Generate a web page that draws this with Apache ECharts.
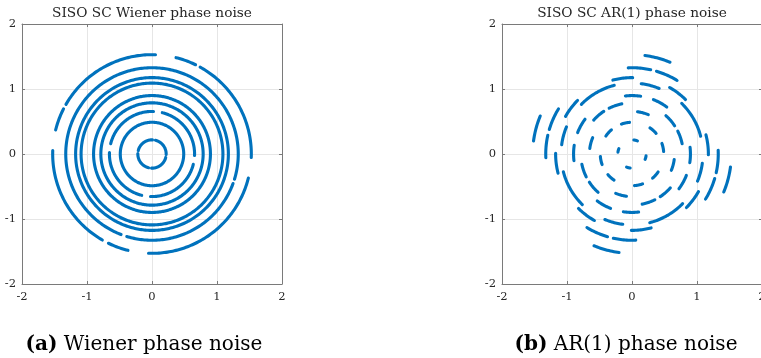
<!DOCTYPE html>
<html>
<head>
<meta charset="utf-8">
<script src="https://cdn.jsdelivr.net/npm/echarts@6/dist/echarts.min.js"></script>
<style>
  html, body { margin: 0; padding: 0; background: #fff; }
  #chart { width: 761px; height: 358px; }
</style>
</head>
<body>
<div id="chart"></div>
<script>
// ring radii of the 64-QAM constellation
const ringRadius = [0.218, 0.488, 0.655, 0.787, 0.899, 1.091, 1.175, 1.327, 1.528]

// Wiener plot: visible arcs on each ring, [start, end] in degrees
const wienerArcs = [
  [[-2, 76], [88, 166], [178, 256], [268, 346]],
  [[0, 360]],
  [[-2, 76], [88, 166], [178, 256], [268, 346]],
  [[0, 360]],
  [[0, 360]],
  [[0, 360]],
  [[0, 360]],
  [[-17, 249], [253, 340]],
  [[-2, 61], [64, 76], [88, 150], [153, 166], [178, 240], [244, 256], [268, 346]]
]

// AR(1) plot: centre angle of every dash on each ring (degrees)
const arCenters = [
  [75, 165, 255, 345],
  [48, 102, 138, 192, 228, 282, 318, 12],
  [75, 165, 255, 345],
  [41, 109, 131, 199, 221, 289, 311, 19],
  [61, 89, 151, 179, 241, 269, 331, 359],
  [75, 165, 255, 345, 38, 112, 128, 202, 218, 292, 308, 22],
  [53, 97, 143, 187, 233, 277, 323, 7],
  [66, 85, 156, 175, 246, 265, 336, 355],
  [75, 165, 255, 345]
]
const arHalfWidth = 7.5

const axisMin = -2
const axisMax = 2
const axisStep = 1

const titles = ['SISO SC Wiener phase noise', 'SISO SC AR(1) phase noise']
const captions = [['(a)', 'Wiener phase noise'], ['(b)', 'AR(1) phase noise']]

const blue = '#0072BD'
const boxColor = '#7a7a7a'
const font = 'DejaVu Serif'

// build [r, a0, a1] items
let wienerData = []
wienerArcs.forEach((arcs, i) => {
  arcs.forEach(a => wienerData.push([ringRadius[i], a[0], a[1]]))
})
let arData = []
arCenters.forEach((cs, i) => {
  cs.forEach(c => arData.push([ringRadius[i], c - arHalfWidth, c + arHalfWidth]))
})

// draw an arc through the axis scales
function renderArc (params, api) {
  let r = api.value(0)
  let a0 = api.value(1)
  let a1 = api.value(2)
  let n = Math.max(2, Math.ceil(Math.abs(a1 - a0)))
  let pts = []
  for (let k = 0; k <= n; k++) {
    let a = (a0 + (a1 - a0) * k / n) * Math.PI / 180
    pts.push(api.coord([r * Math.cos(a), r * Math.sin(a)]))
  }
  return {
    type: 'polyline',
    shape: { points: pts },
    style: { stroke: blue, lineWidth: 3.1, fill: null, lineCap: 'round', lineJoin: 'round' }
  }
}

const lefts = [22, 502]
const centers = [152, 632]

function makeAxis (dim, gi, pos, labels) {
  return {
    type: 'value',
    gridIndex: gi,
    position: pos,
    min: axisMin,
    max: axisMax,
    interval: axisStep,
    axisLine: { show: true, onZero: false, lineStyle: { color: boxColor, width: 1 } },
    axisTick: { show: true, inside: true, length: 3, lineStyle: { color: boxColor } },
    splitLine: { show: labels, lineStyle: { color: '#e6e6e6', width: 1 } },
    axisLabel: {
      show: labels,
      fontFamily: font,
      fontSize: 11.5,
      color: '#262626',
      margin: dim === 'x' ? 7 : 6
    }
  }
}

let xAxis = []
let yAxis = []
let grid = []
let series = []
let graphic = []
for (let g = 0; g < 2; g++) {
  grid.push({ left: lefts[g], top: 24, width: 260, height: 260, containLabel: false, outerBoundsMode: 'none' })
  xAxis.push(makeAxis('x', g, 'bottom', true))
  xAxis.push(makeAxis('x', g, 'top', false))
  yAxis.push(makeAxis('y', g, 'left', true))
  yAxis.push(makeAxis('y', g, 'right', false))
  series.push({
    type: 'custom',
    xAxisIndex: g * 2,
    yAxisIndex: g * 2,
    renderItem: renderArc,
    encode: { x: 0, y: 1 },
    data: g === 0 ? wienerData : arData,
    silent: true,
    animation: false
  })
  graphic.push({
    type: 'text',
    x: centers[g],
    y: 13,
    style: {
      text: titles[g],
      font: '13.7px "' + font + '"',
      fill: '#262626',
      textAlign: 'center',
      textVerticalAlign: 'middle'
    }
  })
  graphic.push({
    type: 'text',
    x: g === 0 ? 144 : 626,
    y: 345,
    style: {
      text: '{b|' + captions[g][0] + '} ' + captions[g][1],
      fontFamily: font,
      fontSize: 20,
      fill: '#000',
      textAlign: 'center',
      textVerticalAlign: 'middle',
      rich: {
        b: { fontFamily: font, fontSize: 20, fontWeight: 'bold', fill: '#000' }
      }
    }
  })
}

let chart = echarts.init(document.getElementById('chart'), null, { renderer: 'canvas' })
chart.setOption({
  animation: false,
  backgroundColor: '#fff',
  grid: grid,
  xAxis: xAxis,
  yAxis: yAxis,
  series: series,
  graphic: graphic
})
</script>
</body>
</html>
